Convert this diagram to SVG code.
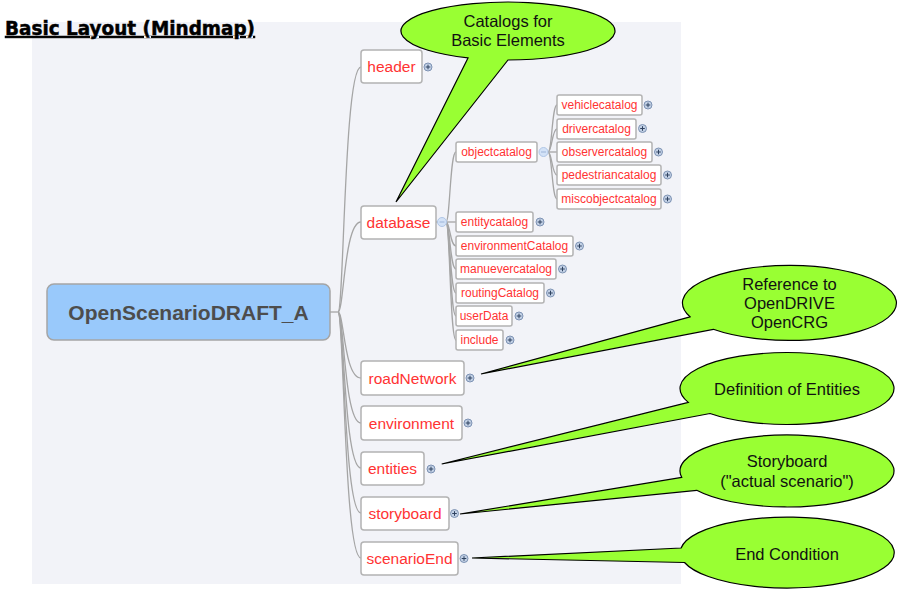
<svg xmlns="http://www.w3.org/2000/svg" width="899" height="595" viewBox="0 0 899 595">
<style>
.bg{fill:#f2f3f8}
.title{font-family:"DejaVu Sans",sans-serif;font-weight:bold;font-size:19.5px;fill:#000;stroke:#000;stroke-width:0.5;text-decoration:underline}
.root rect{fill:#99c9fb;stroke:#a5a5a5;stroke-width:1.5}
.root text{font-family:"Liberation Sans",sans-serif;font-weight:bold;font-size:21px;fill:#4d4d4d;text-anchor:middle}
.n1 rect,.n2 rect{fill:#fff;stroke:#b3b3b3;stroke-width:1.5}
.n1 text{font-family:"Liberation Sans",sans-serif;font-size:15.5px;fill:#ff3333;text-anchor:middle}
.n2 text{font-family:"Liberation Sans",sans-serif;font-size:12px;fill:#ff3333;text-anchor:middle}
.conn path{fill:none;stroke:#a5a5a5;stroke-width:1.3}
.plus circle{fill:#c3d1e6;stroke:#7d92b3;stroke-width:1}
.plus path{stroke:#2f4260;stroke-width:1;fill:none}
.minus circle{fill:#d3e2f7;stroke:#b0c6e6;stroke-width:1}
.minus path{stroke:#9db4d8;stroke-width:1;fill:none}
.callout path{fill:#99ff33;stroke:#000;stroke-width:1.2;stroke-linejoin:miter}
.callout text{font-family:"Liberation Sans",sans-serif;font-size:16.5px;fill:#111;text-anchor:middle}
</style>
<defs>
<g id="plusIcon" class="plus"><circle cx="0" cy="0" r="4"/><path d="M-2.3 0H2.3M0 -2.3V2.3"/></g>
<g id="minusIcon" class="minus"><circle cx="0" cy="0" r="4.5"/><path d="M-2.5 0H2.5"/></g>
</defs>
<rect class="bg" x="32" y="22" width="649" height="562"/>
<text class="title" x="5" y="35" textLength="250" lengthAdjust="spacingAndGlyphs">Basic Layout (Mindmap)</text>

<g id="connectors" class="conn">
<path d="M330 312H338"/>
<path d="M338 312C344 312 344 67 361 67"/>
<path d="M338 312C344 312 344 222 361 222"/>
<path d="M338 312C344 312 344 378 361 378"/>
<path d="M338 312C344 312 344 423 361 423"/>
<path d="M338 312C344 312 344 468 361 468"/>
<path d="M338 312C344 312 344 513 361 513"/>
<path d="M338 312C344 312 344 558 361 558"/>
<path d="M436 222H438"/>
<path d="M446 222C450 222 450 152 456 152"/>
<path d="M446 222H456"/>
<path d="M446 222C450 222 450 246 456 246"/>
<path d="M446 222C450 222 450 269 456 269"/>
<path d="M446 222C450 222 450 293 456 293"/>
<path d="M446 222C450 222 450 316 456 316"/>
<path d="M446 222C450 222 450 340 456 340"/>
<path d="M548 152C552 152 552 105 557 105"/>
<path d="M548 152C552 152 552 129 557 129"/>
<path d="M548 152H557"/>
<path d="M548 152C552 152 552 175 557 175"/>
<path d="M548 152C552 152 552 199 557 199"/>
</g>

<g id="root" class="root">
<rect x="47" y="284" width="283" height="56" rx="7"/>
<text x="188.5" y="319.5">OpenScenarioDRAFT_A</text>
</g>

<g id="header" class="n1"><rect x="361" y="50" width="61" height="33" rx="3"/><text x="391.5" y="72">header</text><use href="#plusIcon" x="428" y="67"/></g>
<g id="database" class="n1"><rect x="361" y="206" width="75" height="33" rx="3"/><text x="398.5" y="228">database</text><use href="#minusIcon" x="442" y="222"/></g>
<g id="roadNetwork" class="n1"><rect x="361" y="361" width="103" height="34" rx="3"/><text x="412.5" y="384">roadNetwork</text><use href="#plusIcon" x="470" y="378"/></g>
<g id="environment" class="n1"><rect x="361" y="406" width="101" height="34" rx="3"/><text x="411.5" y="429">environment</text><use href="#plusIcon" x="468" y="423"/></g>
<g id="entities" class="n1"><rect x="361" y="452" width="63" height="33" rx="3"/><text x="392.5" y="474">entities</text><use href="#plusIcon" x="431" y="469"/></g>
<g id="storyboard" class="n1"><rect x="361" y="497" width="88" height="33" rx="3"/><text x="405" y="519">storyboard</text><use href="#plusIcon" x="454.5" y="513.5"/></g>
<g id="scenarioEnd" class="n1"><rect x="361" y="542" width="97" height="33" rx="3"/><text x="409.5" y="564">scenarioEnd</text><use href="#plusIcon" x="464" y="558.5"/></g>

<g id="objectcatalog" class="n2"><rect x="456" y="142" width="81" height="20" rx="2"/><text x="496.5" y="156">objectcatalog</text><use href="#minusIcon" x="543.5" y="152"/></g>
<g id="entitycatalog" class="n2"><rect x="456" y="212" width="77" height="20" rx="2"/><text x="494.5" y="226">entitycatalog</text><use href="#plusIcon" x="540" y="222"/></g>
<g id="environmentCatalog" class="n2"><rect x="456" y="236" width="117" height="20" rx="2"/><text x="514.5" y="250">environmentCatalog</text><use href="#plusIcon" x="579.5" y="246"/></g>
<g id="manuevercatalog" class="n2"><rect x="456" y="259" width="100" height="20" rx="2"/><text x="506" y="273">manuevercatalog</text><use href="#plusIcon" x="562.5" y="269"/></g>
<g id="routingCatalog" class="n2"><rect x="456" y="283" width="88" height="20" rx="2"/><text x="500" y="297">routingCatalog</text><use href="#plusIcon" x="550.5" y="293"/></g>
<g id="userData" class="n2"><rect x="456" y="306" width="56" height="20" rx="2"/><text x="484" y="320">userData</text><use href="#plusIcon" x="519" y="316"/></g>
<g id="include" class="n2"><rect x="456" y="330" width="47" height="20" rx="2"/><text x="479.5" y="344">include</text><use href="#plusIcon" x="510" y="340"/></g>

<g id="vehiclecatalog" class="n2"><rect x="557" y="95" width="85" height="20" rx="2"/><text x="599.5" y="109">vehiclecatalog</text><use href="#plusIcon" x="648" y="105"/></g>
<g id="drivercatalog" class="n2"><rect x="557" y="119" width="79" height="20" rx="2"/><text x="596.5" y="133">drivercatalog</text><use href="#plusIcon" x="642.5" y="128.5"/></g>
<g id="observercatalog" class="n2"><rect x="557" y="142" width="95" height="20" rx="2"/><text x="604.5" y="156">observercatalog</text><use href="#plusIcon" x="658.5" y="152"/></g>
<g id="pedestriancatalog" class="n2"><rect x="557" y="165" width="104" height="20" rx="2"/><text x="609" y="179">pedestriancatalog</text><use href="#plusIcon" x="667.5" y="175"/></g>
<g id="miscobjectcatalog" class="n2"><rect x="557" y="189" width="104" height="20" rx="2"/><text x="609" y="203">miscobjectcatalog</text><use href="#plusIcon" x="667.5" y="199"/></g>

<g id="callout-catalogs" class="callout">
<path d="M468 57.9L396 202L508 60A107 29 0 1 0 468 57.9Z"/>
<text x="508" y="27">Catalogs for</text>
<text x="508" y="46">Basic Elements</text>
</g>
<g id="callout-reference" class="callout">
<path d="M690 316.8L481 374L713.3 329.3A107 37.5 0 1 0 690 316.8Z"/>
<text x="789.5" y="290">Reference to</text>
<text x="789.5" y="309">OpenDRIVE</text>
<text x="789.5" y="328">OpenCRG</text>
</g>
<g id="callout-entities" class="callout">
<path d="M688.3 402.4L441.7 464L710 413.5A107 36 0 1 0 688.3 402.4Z"/>
<text x="787" y="395">Definition of Entities</text>
</g>
<g id="callout-storyboard" class="callout">
<path d="M681.7 477.4L460 514L696.7 490.3A107 36 0 1 0 681.7 477.4Z"/>
<text x="787" y="467">Storyboard</text>
<text x="787" y="487">("actual scenario")</text>
</g>
<g id="callout-end" class="callout">
<path d="M681.1 548L472 558L684.5 562.5A107 35.5 0 1 0 681.1 548Z"/>
<text x="787" y="560">End Condition</text>
</g>
</svg>
